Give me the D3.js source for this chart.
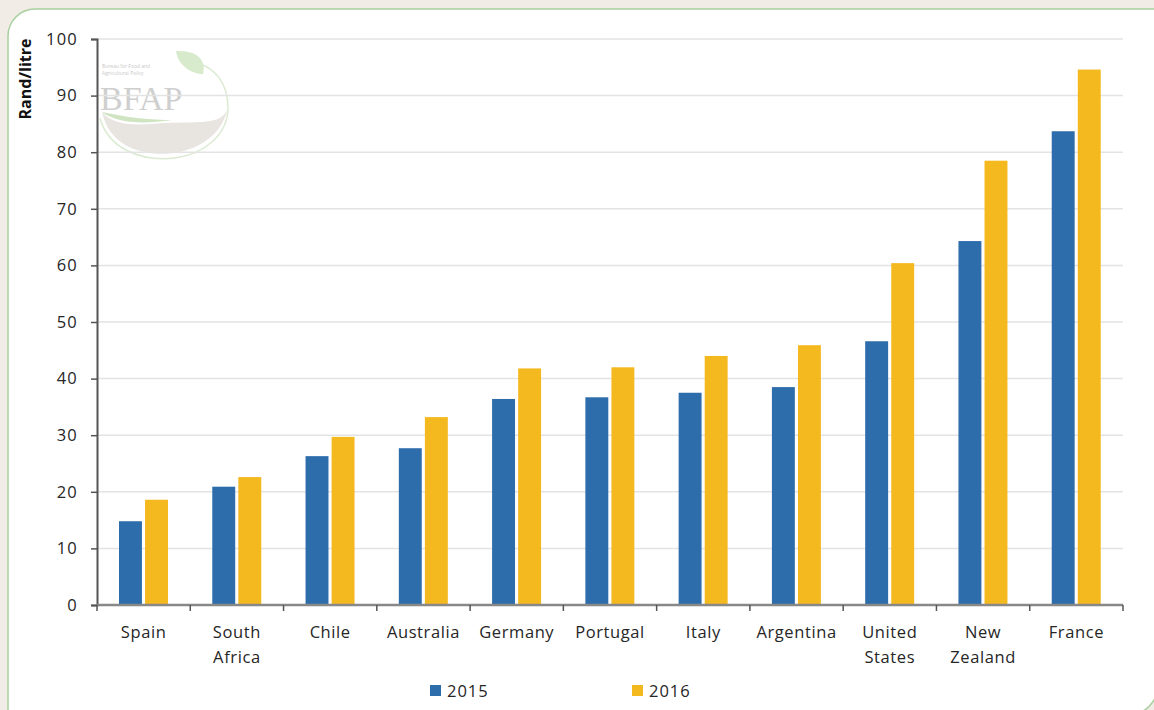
<!DOCTYPE html>
<html>
<head>
<meta charset="utf-8">
<script src="https://cdn.jsdelivr.net/npm/d3@7"></script>
<style>
  body { margin: 0; background: #f1ede6; }
  svg { display: block; font-family: "Open Sans", Lato, sans-serif; }
</style>
</head>
<body>
<svg id="chart" width="1154" height="710"></svg>
<script>
const countries = ['Spain', 'South Africa', 'Chile', 'Australia', 'Germany', 'Portugal', 'Italy', 'Argentina', 'United States', 'New Zealand', 'France']
const labelLines = [['Spain'], ['South', 'Africa'], ['Chile'], ['Australia'], ['Germany'], ['Portugal'], ['Italy'], ['Argentina'], ['United', 'States'], ['New', 'Zealand'], ['France']]
const values2015 = [14.8, 20.9, 26.3, 27.7, 36.4, 36.7, 37.5, 38.5, 46.6, 64.3, 83.7]
const values2016 = [18.6, 22.6, 29.7, 33.2, 41.8, 42.0, 44.0, 45.9, 60.4, 78.5, 94.6]
const series = ['2015', '2016']
const colors = ['#2e6dab', '#f5b920']
const yTicks = [0, 10, 20, 30, 40, 50, 60, 70, 80, 90, 100]

const svg = d3.select('#chart')

// panel: rounded top-left and bottom-right corners only
svg.append('path')
  .attr('d', 'M8,730 L8,36 A27,27 0 0 1 35,9 L1158,9 L1158,685 A30,30 0 0 1 1128,715 L8,715')
  .attr('fill', '#fff')
  .attr('stroke', '#a9cf9f')
  .attr('stroke-width', 1.5)

const plotLeft = 97, plotRight = 1123, plotTop = 39, plotBottom = 605

const x = d3.scaleBand().domain(countries).range([plotLeft, plotRight])
const xInner = d3.scaleBand().domain(series).range([22, 71]).paddingInner(0.12)
const y = d3.scaleLinear().domain([0, 100]).range([plotBottom, plotTop])

// watermark logo
let logo = svg.append('g').attr('opacity', 0.55)
logo.append('path')
  .attr('d', 'M102,112 C110,150 150,158 180,152 C205,146 222,132 228,108 C222,128 190,120 150,124 C125,126 110,122 102,112 Z')
  .attr('fill', '#d6cfc6')
logo.append('path')
  .attr('d', 'M102,112 C130,118 150,120 172,120 C140,125 115,122 102,112 Z')
  .attr('fill', '#a8cf8f')
logo.append('path')
  .attr('d', 'M100,118 C108,148 140,162 175,158 C205,154 228,134 228,108 C228,80 212,68 200,64')
  .attr('fill', 'none').attr('stroke', '#bfdcae').attr('stroke-width', 1.5)
logo.append('path')
  .attr('d', 'M176,51 C200,50 206,62 203,74 C192,74 178,66 176,51 Z')
  .attr('fill', '#b9d9a4')
logo.append('text')
  .attr('x', 100).attr('y', 110)
  .attr('font-family', '"Liberation Serif", serif')
  .attr('font-size', 34)
  .attr('fill', '#a9a9a9')
  .text('BFAP')
logo.append('text').attr('x', 102).attr('y', 68).attr('font-size', 5).attr('fill', '#999').text('Bureau for Food and')
logo.append('text').attr('x', 102).attr('y', 75).attr('font-size', 5).attr('fill', '#999').text('Agricultural Policy')

// gridlines
svg.append('g')
  .selectAll('line')
  .data(yTicks.filter(d => d > 0))
  .enter()
  .append('line')
  .attr('x1', plotLeft).attr('x2', plotRight)
  .attr('y1', d => y(d)).attr('y2', d => y(d))
  .attr('stroke', '#e3e3e3')
  .attr('stroke-width', 1.5)

// bars
let groups = svg.append('g')
  .selectAll('g')
  .data(countries)
  .enter()
  .append('g')
  .attr('transform', d => 'translate(' + x(d) + ',0)')

groups.selectAll('rect')
  .data((d, i) => [values2015[i], values2016[i]].map((v, j) => ({ key: series[j], value: v })))
  .enter()
  .append('rect')
  .attr('x', d => xInner(d.key))
  .attr('width', xInner.bandwidth())
  .attr('y', d => y(d.value))
  .attr('height', d => plotBottom - y(d.value))
  .attr('fill', (d, j) => colors[j])

// y axis
let yAxis = svg.append('g')
  .attr('transform', 'translate(' + plotLeft + ',0)')
  .call(d3.axisLeft(y).tickValues(yTicks).tickSize(6).tickPadding(13))
yAxis.select('.domain').attr('stroke', '#555').attr('stroke-width', 2)
yAxis.selectAll('.tick line').attr('stroke', '#555').attr('stroke-width', 1.5)
yAxis.selectAll('text')
  .attr('font-size', 16.5)
  .attr('letter-spacing', 1.2)
  .attr('fill', '#262626')
  .attr('font-family', '"Open Sans", sans-serif')

// x axis
let xAxis = svg.append('g')
  .attr('transform', 'translate(0,' + plotBottom + ')')
xAxis.append('line')
  .attr('x1', plotLeft).attr('x2', plotRight)
  .attr('stroke', '#888').attr('stroke-width', 2.5)
xAxis.selectAll('line.tk')
  .data(countries.concat(['end']))
  .enter()
  .append('line')
  .attr('class', 'tk')
  .attr('x1', (d, i) => i < countries.length ? x(d) : plotRight)
  .attr('x2', (d, i) => i < countries.length ? x(d) : plotRight)
  .attr('y1', 0).attr('y2', 6)
  .attr('stroke', '#555').attr('stroke-width', 1.5)

xAxis.selectAll('text.cat')
  .data(countries)
  .enter()
  .append('text')
  .attr('class', 'cat')
  .attr('text-anchor', 'middle')
  .attr('font-size', 16.5)
  .attr('letter-spacing', 0.6)
  .attr('fill', '#262626')
  .each(function (d, i) {
    d3.select(this).selectAll('tspan')
      .data(labelLines[i])
      .enter()
      .append('tspan')
      .attr('x', x(d) + x.bandwidth() / 2)
      .attr('y', (t, k) => 33 + k * 25)
      .text(t => t)
  })

// y label
svg.append('text')
  .attr('transform', 'translate(31,79) rotate(-90)')
  .attr('text-anchor', 'middle')
  .attr('font-size', 16)
  .attr('font-weight', 'bold')
  .attr('fill', '#111')
  .text('Rand/litre')

// legend
const legendX = [430, 632]
let legend = svg.append('g')
series.forEach((s, i) => {
  legend.append('rect')
    .attr('x', legendX[i]).attr('y', 685)
    .attr('width', 11).attr('height', 11)
    .attr('fill', colors[i])
  legend.append('text')
    .attr('x', legendX[i] + 17).attr('y', 697)
    .attr('font-size', 16.5)
    .attr('letter-spacing', 1)
    .attr('fill', '#262626')
    .text(s)
})
</script>
</body>
</html>
